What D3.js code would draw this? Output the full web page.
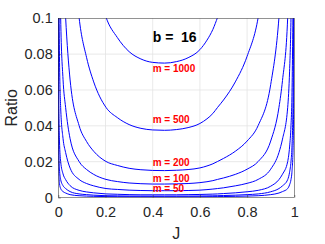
<!DOCTYPE html>
<html>
<head>
<meta charset="utf-8">
<script src="https://cdn.jsdelivr.net/npm/d3@7"></script>
<style>
  body { margin: 0; background: #fff; }
  svg { display: block; font-family: "Liberation Sans", Arial, sans-serif; }
</style>
</head>
<body>
<svg width="325" height="244"></svg>
<script>
// J values shared by every curve
var jValues = [0.00005, 0.0002, 0.0005, 0.001, 0.002, 0.003, 0.005, 0.01, 0.02, 0.031,
    0.05, 0.088, 0.12, 0.15, 0.202, 0.25, 0.3, 0.35, 0.4, 0.45,
    0.5, 0.55, 0.6, 0.63, 0.655, 0.675, 0.7, 0.75, 0.8, 0.847,
    0.9, 0.935, 0.95, 0.972, 0.98, 0.986, 0.99, 0.995, 0.998, 0.9995];

var _ = null;
var ratioM1000 = [_,_,_,_,_,_,_,_,_,_, _,_,_,0.129,0.1007,0.0893,0.0814,0.0773,0.0754,0.075,
    0.0758,0.078,0.0825,0.0878,0.0938,0.1005,0.1088,_,_,_, _,_,_,_,_,_,_,_,_,_];
var ratioM500 = [_,_,_,_,_,_,_,_,_,_, 0.164,0.1005,0.078,0.0645,0.0503,0.0446,0.0407,0.0386,0.0377,0.0375,
    0.0379,0.039,0.0413,0.0439,0.0469,0.0503,0.0544,0.0645,0.0788,0.1005, 0.1575,_,_,_,_,_,_,_,_,_];
var ratioM200 = [_,_,_,_,_,_,_,_,0.132,0.1005, 0.0656,0.0402,0.0312,0.0258,0.0201,0.0179,0.0163,0.0155,0.0151,0.015,
    0.0152,0.0156,0.0165,0.0176,0.0188,0.0201,0.0218,0.0258,0.0315,0.0402, 0.063,0.1005,0.1305,_,_,_,_,_,_,_];
var ratioM100 = [_,_,_,_,_,_,0.1575,0.1005,0.066,0.0503, 0.0328,0.0201,0.0156,0.0129,0.0101,0.0089,0.0081,0.0077,0.0075,0.0075,
    0.0076,0.0078,0.0083,0.0088,0.0094,0.0101,0.0109,0.0129,0.0158,0.0201, 0.0315,0.0503,0.0653,0.1005,0.141,_,_,_,_,_];
var ratioM50 = [_,_,_,_,_,0.11,0.0788,0.0503,0.033,0.0251, 0.0164,0.0101,0.0078,0.0065,0.005,0.0045,0.0041,0.0039,0.0038,0.0038,
    0.0038,0.0039,0.0041,0.0044,0.0047,0.005,0.0054,0.0065,0.0079,0.0101, 0.0158,0.0251,0.0326,0.0503,0.0705,0.1005,0.1406,_,_,_];
var ratioM20 = [_,_,0.141,0.09,0.0582,0.044,0.0315,0.0201,0.0132,0.01, 0.0066,0.004,0.0031,0.0026,0.002,0.0018,0.0016,0.0015,0.0015,0.0015,
    0.0015,0.0016,0.0017,0.0018,0.0019,0.002,0.0022,0.0026,0.0032,0.004, 0.0063,0.01,0.013,0.0201,0.0282,0.0402,0.0563,0.1125,_,_];
var ratioM10 = [_,0.1275,0.0705,0.045,0.0291,0.022,0.0158,0.01,0.0066,0.005, 0.0033,0.002,0.0016,0.0013,0.001,0.0009,0.0008,0.00077,0.00075,0.00075,
    0.00076,0.00078,0.00083,0.00088,0.00094,0.001,0.0011,0.0013,0.0016,0.002, 0.0032,0.005,0.0065,0.01,0.0141,0.0201,0.0281,0.0563,0.1425,_];
var ratioM5 = [0.15,0.0638,0.0353,0.0225,0.0146,0.011,0.0079,0.005,0.0033,0.0025, 0.0016,0.001,0.00078,0.00065,0.0005,0.00045,0.00041,0.00039,0.00038,0.00038,
    0.00038,0.00039,0.00041,0.00044,0.00047,0.0005,0.00054,0.00065,0.00079,0.001, 0.0016,0.0025,0.0033,0.005,0.0071,0.01,0.0141,0.0281,0.0713,0.281];

var allSeries = [ratioM1000, ratioM500, ratioM200, ratioM100, ratioM50, ratioM20, ratioM10, ratioM5];

// labels: text and anchor in data units
var labelTexts = ['m = 1000', 'm = 500', 'm = 200', 'm = 100', 'm = 50'];
var labelJ = 0.4;
var labelRatio = [0.0702, 0.0414, 0.0176, 0.0085, 0.0028];
var titleText = 'b =  16';
var titleRatio = 0.0869;

var xTicks = [0, 0.2, 0.4, 0.6, 0.8, 1];
var yTicks = [0, 0.02, 0.04, 0.06, 0.08, 0.1];

var marginLeft = 58.3, marginTop = 18.3, w = 236, h = 179.2;

var svg = d3.select('svg');
var scaleX = d3.scaleLinear().domain([0, 1]).range([0, w]);
var scaleY = d3.scaleLinear().domain([0, 0.1]).range([h, 0]);

var g = svg.append('g').attr('transform', 'translate(' + marginLeft + ',' + marginTop + ')');

// grid
g.selectAll('.gx').data(xTicks.slice(1, -1)).enter().append('line')
    .attr('x1', d => scaleX(d)).attr('x2', d => scaleX(d))
    .attr('y1', 0).attr('y2', h)
    .attr('stroke', '#e3e3e3').attr('stroke-width', 0.8);
g.selectAll('.gy').data(yTicks.slice(1, -1)).enter().append('line')
    .attr('y1', d => scaleY(d)).attr('y2', d => scaleY(d))
    .attr('x1', 0).attr('x2', w)
    .attr('stroke', '#e3e3e3').attr('stroke-width', 0.8);

svg.append('clipPath').attr('id', 'clip')
    .append('rect').attr('x', 0).attr('y', 0).attr('width', w).attr('height', h);

var line = d3.line()
    .defined(d => d[1] != null)
    .x(d => scaleX(d[0]))
    .y(d => scaleY(d[1]))
    .curve(d3.curveMonotoneX);

g.append('g').attr('clip-path', 'url(#clip)')
    .selectAll('path').data(allSeries).enter().append('path')
    .attr('d', s => line(jValues.map((j, i) => [j, s[i]])))
    .attr('fill', 'none')
    .attr('stroke', '#0000ff')
    .attr('stroke-width', 1);

// box
g.append('rect').attr('x', 0).attr('y', 0).attr('width', w).attr('height', h)
    .attr('fill', 'none').attr('stroke', '#262626').attr('stroke-width', 0.5);

var fmt = d => d === 0 ? '0' : String(+d.toFixed(2));

var xAxis = g.append('g')
    .attr('transform', 'translate(0,' + h + ')')
    .call(d3.axisBottom(scaleX).tickValues(xTicks).tickFormat(fmt).tickSize(-2.5).tickPadding(9.5));
var yAxis = g.append('g')
    .call(d3.axisLeft(scaleY).tickValues(yTicks).tickFormat(fmt).tickSize(-2.5).tickPadding(5.6));

[xAxis, yAxis].forEach(function (a) {
    a.select('.domain').remove();
    a.selectAll('line').attr('stroke', '#262626').attr('stroke-width', 0.5);
    a.selectAll('text').attr('fill', '#262626')
        .attr('font-family', '"Liberation Sans", Arial, sans-serif')
        .attr('font-size', 14.5);
});

// annotations
g.append('text')
    .attr('x', scaleX(labelJ))
    .attr('y', scaleY(titleRatio))
    .attr('font-size', 14)
    .attr('font-weight', 'bold')
    .attr('fill', '#000')
    .style('white-space', 'pre')
    .text(titleText);

g.selectAll('.mlab').data(labelTexts).enter().append('text')
    .attr('x', scaleX(labelJ))
    .attr('y', (d, i) => scaleY(labelRatio[i]))
    .attr('font-size', 10)
    .attr('font-weight', 'bold')
    .attr('fill', '#ff0000')
    .text(d => d);

// axis titles
svg.append('text')
    .attr('x', marginLeft + w / 2)
    .attr('y', 239)
    .attr('text-anchor', 'middle')
    .attr('font-size', 16)
    .attr('fill', '#262626')
    .text('J');

svg.append('text')
    .attr('transform', 'translate(16.5,' + (marginTop + h / 2) + ') rotate(-90)')
    .attr('text-anchor', 'middle')
    .attr('font-size', 16)
    .attr('fill', '#262626')
    .text('Ratio');
</script>
</body>
</html>
